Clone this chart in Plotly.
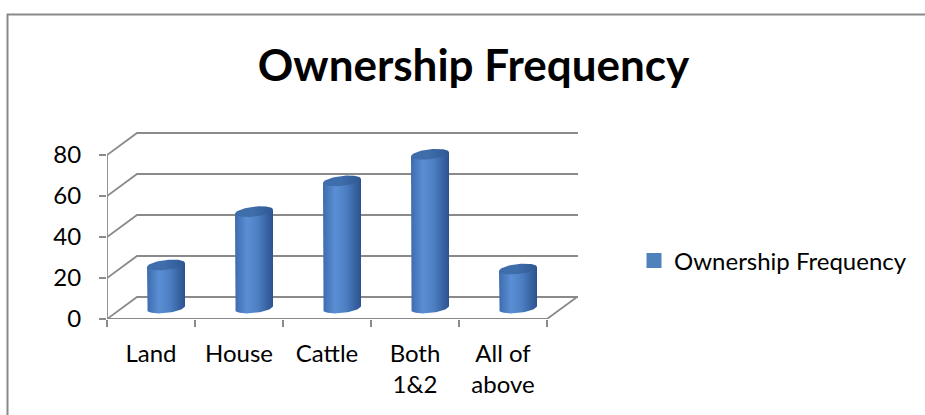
import numpy as np
import plotly.graph_objects as go

# Data
categories = ["Land", "House", "Cattle", "Both<br>1&2", "All of<br>above"]
frequency = [21, 47, 62, 75, 19]
y_ticks = [0, 20, 40, 60, 80]
series_name = "Ownership Frequency"
chart_title = "Ownership Frequency"

# Canvas and plot-area geometry (pixels)
W, H = 925, 415
PL, PR, PT, PB = 107, 578, 130, 319          # plot area edges
PX_PER_UNIT = 2.05                            # vertical pixels per value unit
PX_PER_CAT = 88                               # horizontal pixels per category
DEPTH_X, DEPTH_Y = 30, 22                     # 3-D depth offset in pixels

y_top = (PB - PT) / PX_PER_UNIT
x_lo = -0.5
x_hi = x_lo + (PR - PL) / PX_PER_CAT
DX = DEPTH_X / PX_PER_CAT
DY = DEPTH_Y / PX_PER_UNIT

GRID = "#8a8a8a"
FONT = "Lato"
LABEL_SIZE = 24


def px_to_paper_x(px):
    return (px - PL) / (PR - PL)


def px_to_paper_y(py):
    return (PB - py) / (PB - PT)


fig = go.Figure()

# Cylinders: radius and ellipse shape in axis units
half_w = 19 / PX_PER_CAT
ell_b = 5.0 / PX_PER_UNIT
tilt = 2.0 / PX_PER_UNIT
body_scale = [[0, "#3d6cad"], [0.32, "#5b8fd5"], [0.6, "#4c7fc2"], [1, "#2b5290"]]
top_scale = [[0, "#3f6dab"], [0.45, "#3f6eab"], [1, "#2e5893"]]

for i, v in enumerate(frequency):
    cx = i + DX / 2
    y0 = DY / 2
    y1 = v + DY / 2
    t_low = np.linspace(np.pi, 2 * np.pi, 40)
    arc_x = cx + half_w * np.cos(t_low)
    arc_y = y0 + ell_b * np.sin(t_low) + tilt * np.cos(t_low)
    bx = [cx - half_w] + list(arc_x) + [cx + half_w, cx - half_w]
    by = [y1 - tilt] + list(arc_y) + [y1 + tilt, y1 - tilt]
    fig.add_trace(go.Scatter(
        x=bx, y=by, mode="lines", fill="toself", line=dict(width=0),
        fillgradient=dict(type="horizontal", colorscale=body_scale),
        showlegend=False, hoverinfo="skip"))
    t = np.linspace(0, 2 * np.pi, 80)
    fig.add_trace(go.Scatter(
        x=cx + half_w * np.cos(t),
        y=y1 + ell_b * np.sin(t) + tilt * np.cos(t),
        mode="lines", fill="toself", line=dict(width=0),
        fillgradient=dict(type="horizontal", colorscale=top_scale),
        showlegend=False, hoverinfo="text",
        text=f"{categories[i].replace('<br>', ' ')}: {v}"))

# Legend entry
fig.add_trace(go.Scatter(
    x=[None], y=[None], mode="markers", name=series_name,
    marker=dict(symbol="square", size=15, color="#4f81bd")))

shapes = []
line_style = dict(color=GRID, width=1.8)
x_front_end = x_lo + len(categories)

# Back-wall gridlines with their side-wall diagonals
for g in y_ticks:
    shapes.append(dict(
        type="path", xref="x", yref="y", layer="below", line=line_style,
        path=f"M {x_lo},{g} L {x_lo + DX},{g + DY} L {x_hi},{g + DY}"))
# Front vertical axis line
shapes.append(dict(type="line", xref="x", yref="y", layer="below", line=line_style,
                   x0=x_lo, x1=x_lo, y0=0, y1=y_ticks[-1]))
# Front floor edge and right floor diagonal
shapes.append(dict(type="path", xref="x", yref="y", layer="below", line=line_style,
                   path=f"M {x_lo},0 L {x_front_end},0 L {x_front_end + DX},{DY}"))
# Outer chart border
shapes.append(dict(type="rect", xref="paper", yref="paper", layer="below",
                   line=dict(color="#898989", width=2),
                   x0=px_to_paper_x(7.5), x1=px_to_paper_x(940),
                   y0=px_to_paper_y(430), y1=px_to_paper_y(14.5)))

fig.update_layout(
    width=W, height=H,
    margin=dict(l=PL, r=W - PR, t=PT, b=H - PB),
    paper_bgcolor="white", plot_bgcolor="white",
    font=dict(family=FONT, size=LABEL_SIZE, color="black"),
    title=dict(text=f"<b>{chart_title}</b>", font=dict(family=FONT, size=44, color="black"),
               x=473.5 / W, xanchor="center", xref="container",
               y=1 - 66 / H, yanchor="middle", yref="container"),
    shapes=shapes,
    showlegend=True,
    legend=dict(x=px_to_paper_x(634), y=px_to_paper_y(261), xanchor="left", yanchor="middle",
                font=dict(family=FONT, size=LABEL_SIZE, color="black"),
                bgcolor="rgba(0,0,0,0)"),
    xaxis=dict(range=[x_lo, x_hi], tickvals=list(range(len(categories))), ticktext=categories,
               ticks="", showgrid=False, zeroline=False, showline=False,
               ticklabelstandoff=18,
               minor=dict(tickvals=[x_lo + k for k in range(len(categories) + 1)],
                          ticks="outside", ticklen=7, tickwidth=1.8, tickcolor=GRID,
                          showgrid=False),
               tickfont=dict(family=FONT, size=LABEL_SIZE), fixedrange=True),
    yaxis=dict(range=[0, y_top], tickvals=y_ticks, ticks="outside", ticklen=7,
               tickwidth=1.8, tickcolor=GRID, showgrid=False, zeroline=False,
               showline=False, ticklabelstandoff=13,
               tickfont=dict(family=FONT, size=LABEL_SIZE), fixedrange=True),
)

fig.write_html("out.html")
